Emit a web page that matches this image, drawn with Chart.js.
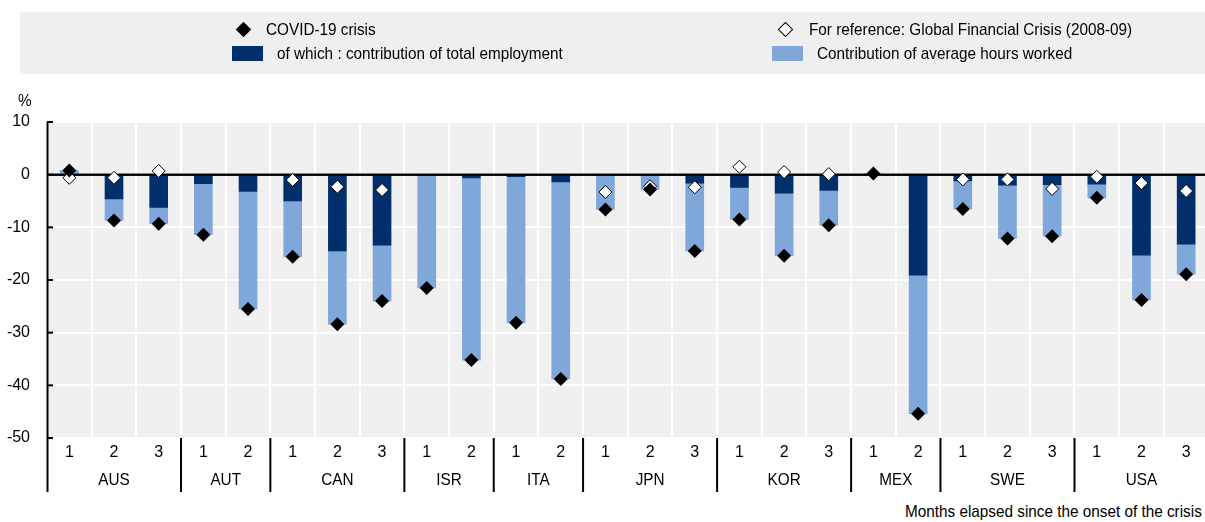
<!DOCTYPE html>
<html>
<head>
<meta charset="utf-8">
<script src="https://cdn.jsdelivr.net/npm/chart.js@4"></script>
<style>
  body { margin: 0; background: #fff; overflow: hidden; }
  #wrap {
    position: relative; width: 1205px; height: 522px; overflow: hidden;
    font-family: "Liberation Sans", Arial, sans-serif;
    font-size: 17px; color: #000;
  }
  #chart { position: absolute; left: 0; top: 0; }
  .legend { position: absolute; left: 20px; top: 12px; width: 1185px; height: 62px; background: #efefef; }
  .txt { position: absolute; white-space: nowrap; line-height: 20px; transform: scaleX(0.9); transform-origin: left center; z-index: 2; }
  .sq { position: absolute; width: 31px; height: 15px; }
  .dia { position: absolute; width: 11px; height: 11px; transform: rotate(45deg); box-sizing: border-box; }
</style>
</head>
<body>
<div id="wrap">
  <div class="legend"></div>
  <div class="dia" style="left:238px; top:24px; background:#000;"></div>
  <div class="txt" style="left:266px; top:20px;">COVID-19 crisis</div>
  <div class="sq" style="left:232px; top:46px; background:#002f6c;"></div>
  <div class="txt" style="left:277px; top:44px;">of which : contribution of total employment</div>
  <div class="dia" style="left:780px; top:24px; background:#fff; border:1px solid #000;"></div>
  <div class="txt" style="left:809px; top:20px;">For reference: Global Financial Crisis (2008-09)</div>
  <div class="sq" style="left:772px; top:46px; background:#7fa7d9;"></div>
  <div class="txt" style="left:817px; top:44px;">Contribution of average hours worked</div>
  <div class="txt" style="left:18px; top:91px;">%</div>
  <canvas id="chart" width="1216" height="522"></canvas>
  <div class="txt" style="right:3px; top:502px; transform-origin: right center; background:#fff;">Months elapsed since the onset of the crisis</div>
</div>
<script>
const FONT = '"Liberation Sans", Arial, sans-serif';

// Countries and how many months each one shows
const countries = ['AUS', 'AUT', 'CAN', 'ISR', 'ITA', 'JPN', 'KOR', 'MEX', 'SWE', 'USA'];
const monthsPerCountry = [3, 2, 3, 2, 2, 3, 3, 2, 3, 3];
const monthLabels = ['1', '2', '3', '1', '2', '1', '2', '3', '1', '2', '1', '2', '1', '2', '3',
                     '1', '2', '3', '1', '2', '1', '2', '3', '1', '2', '3'];

// Contribution of total employment (dark bars)
const employment = [0, -4.6, -6.2,  -1.7, -3.2,  -5.0, -14.5, -13.4,  0, -0.6,  -0.4, -1.4,
                    0, 0, -1.6,  -2.4, -3.5, -3.0,  0, -19.1,  -1.2, -2.0, -1.9,  -1.8, -15.3, -13.2];
// Contribution of average hours worked (light bars)
const hours = [0.8, -4.1, -3.1,  -9.7, -22.3,  -10.6, -13.9, -10.6,  -21.5, -34.6,  -27.7, -37.4,
               -6.6, -2.8, -12.9,  -6.1, -11.9, -6.6,  0.2, -26.3,  -5.3, -10.1, -9.8,  -2.6, -8.5, -5.7];
// COVID-19 crisis total (black diamonds)
const covidTotal = [0.8, -8.7, -9.3,  -11.4, -25.5,  -15.6, -28.4, -24.0,  -21.5, -35.2,  -28.1, -38.8,
                    -6.6, -2.8, -14.5,  -8.5, -15.4, -9.6,  0.2, -45.4,  -6.5, -12.1, -11.7,  -4.4, -23.8, -18.9];
// Global Financial Crisis 2008-09 (white diamonds)
const gfcTotal = [-0.6, -0.6, 0.7,  null, null,  -1.0, -2.3, -2.9,  null, null,  null, null,
                  -3.3, -2.2, -2.4,  1.5, 0.5, 0.1,  null, null,  -0.9, -0.9, -2.7,  -0.4, -1.6, -3.1];

const decor = {
  id: 'decor',
  beforeDraw(chart) {
    const { ctx, chartArea: a } = chart;
    ctx.save();
    ctx.fillStyle = '#f0f0f0';
    ctx.fillRect(a.left, a.top, a.right - a.left, a.bottom - a.top);
    ctx.restore();
  },
  afterDatasetDraw(chart, args) {
    if (args.meta.type !== 'bar') return;
    const { ctx, chartArea: a } = chart;
    const y0 = chart.scales.y.getPixelForValue(0);
    ctx.save();
    ctx.strokeStyle = '#000';
    ctx.lineWidth = 2;
    ctx.beginPath();
    ctx.moveTo(a.left, y0);
    ctx.lineTo(a.right, y0);
    ctx.stroke();
    ctx.restore();
  },
  afterDraw(chart) {
    const { ctx, chartArea: a } = chart;
    const x = chart.scales.x, y = chart.scales.y;
    const bottom = a.bottom + 54;
    ctx.save();
    ctx.strokeStyle = '#000';
    ctx.lineWidth = 2;
    // y axis line
    ctx.beginPath();
    ctx.moveTo(a.left + 0.5, a.top);
    ctx.lineTo(a.left + 0.5, bottom);
    ctx.stroke();
    // small inward ticks
    y.ticks.forEach(t => {
      const py = y.getPixelForValue(t.value);
      ctx.beginPath();
      ctx.moveTo(a.left, py);
      ctx.lineTo(a.left + 6, py);
      ctx.stroke();
    });
    // country separators and names
    ctx.fillStyle = '#000';
    ctx.font = '17px ' + FONT;
    ctx.textAlign = 'center';
    ctx.textBaseline = 'middle';
    let start = 0;
    countries.forEach((c, i) => {
      const end = start + monthsPerCountry[i] - 1;
      if (start > 0) {
        const sx = (x.getPixelForValue(start - 1) + x.getPixelForValue(start)) / 2;
        ctx.beginPath();
        ctx.moveTo(sx, a.bottom);
        ctx.lineTo(sx, bottom);
        ctx.stroke();
      }
      const cx = (x.getPixelForValue(start) + x.getPixelForValue(end)) / 2;
      // names are slightly condensed, like the rest of the text
      ctx.save();
      ctx.translate(cx, a.bottom + 42);
      ctx.scale(0.9, 1);
      ctx.fillText(c, 0, 0);
      ctx.restore();
      start = end + 1;
    });
    ctx.restore();
  }
};

const ctx = document.getElementById('chart').getContext('2d');
new Chart(ctx, {
  type: 'bar',
  data: {
    labels: monthLabels,
    datasets: [
      {
        type: 'line', label: 'COVID-19 crisis', data: covidTotal, showLine: false,
        pointStyle: 'rectRot', pointRadius: 7, pointBackgroundColor: '#000',
        pointBorderColor: '#000', pointBorderWidth: 0, stack: 'covid', order: 0
      },
      {
        type: 'line', label: 'For reference: Global Financial Crisis (2008-09)', data: gfcTotal, showLine: false,
        pointStyle: 'rectRot', pointRadius: 6.5, pointBackgroundColor: '#fff',
        pointBorderColor: '#000', pointBorderWidth: 1, stack: 'gfc', order: 1
      },
      { label: 'of which : contribution of total employment', data: employment, backgroundColor: '#002f6c', stack: 'c', order: 2, barThickness: 18 },
      { label: 'Contribution of average hours worked', data: hours, backgroundColor: '#7fa7d9', stack: 'c', order: 2, barThickness: 18 }
    ]
  },
  options: {
    responsive: false,
    animation: false,
    layout: { padding: { top: 122, right: 1.5, bottom: 30, left: 0 } },
    plugins: { legend: { display: false }, tooltip: { enabled: false } },
    scales: {
      x: {
        stacked: true,
        grid: { color: '#fff', lineWidth: 2, drawTicks: false, offset: true },
        border: { display: false },
        ticks: { color: '#000', font: { size: 16, family: FONT }, padding: 5, maxRotation: 0, autoSkip: false },
        afterFit(s) { s.height = 54; }
      },
      y: {
        stacked: true,
        min: -50, max: 10,
        grid: { color: c => c.tick.value === 0 ? 'rgba(0,0,0,0)' : '#fff', lineWidth: 2, drawTicks: false },
        border: { display: false },
        ticks: { stepSize: 10, color: '#000', font: { size: 16, family: FONT }, padding: 17 },
        afterFit(s) { s.width = 47; }
      }
    }
  },
  plugins: [decor]
});
</script>
</body>
</html>
